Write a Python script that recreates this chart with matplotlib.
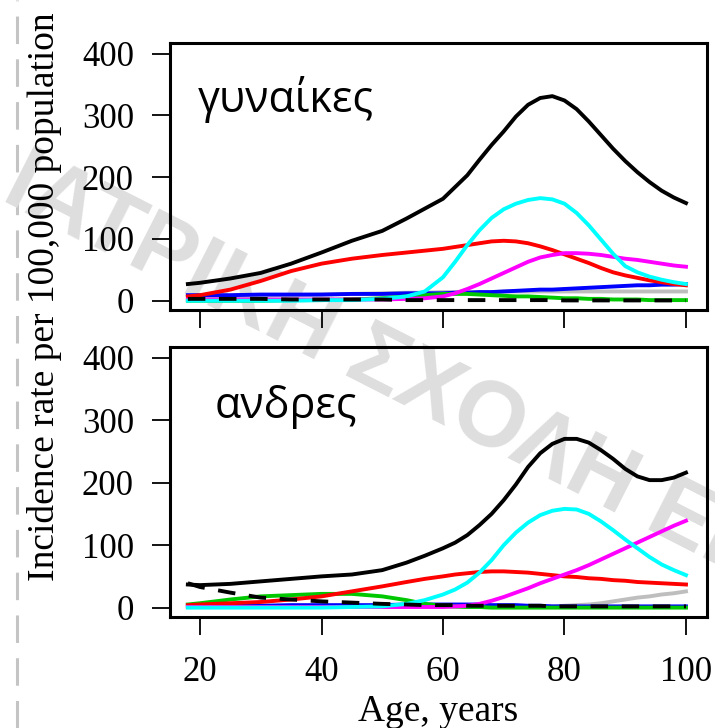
import numpy as np
import matplotlib
matplotlib.use('Agg')
import matplotlib.pyplot as plt
from matplotlib.lines import Line2D

ages = [18, 20, 25, 30, 35, 40, 45, 50, 54, 57, 60, 62, 64, 66, 68, 70,
        72, 74, 76, 78, 80, 82, 84, 86, 88, 90, 92, 94, 96, 98, 100]

# women (top panel)
w_total = [27, 29, 36, 45, 60, 78, 97, 113, 133, 149, 165, 184, 203, 228, 252, 274,
           298, 317, 328, 331, 324, 310, 290, 268, 246, 226, 208, 192, 178, 167, 158]
w_red = [7, 9, 18, 32, 48, 60, 68, 74, 78, 81, 84, 87, 90, 93, 96, 97,
         96, 93, 88, 82, 75, 68, 61, 53, 46, 41, 37, 33, 30, 27, 25]
w_cyan = [0, 0, 0, 0, 0, 1, 1, 3, 7, 15, 38, 63, 90, 114, 134, 148,
          157, 163, 166, 164, 157, 142, 122, 99, 76, 56, 46, 39, 34, 30, 27]
w_magenta = [2, 2, 2, 2, 2, 2, 2, 2, 3, 4, 7, 12, 19, 27, 36, 45,
             54, 63, 70, 74, 77, 77, 76, 74, 71, 68, 66, 63, 60, 57, 55]
w_blue = [9, 9, 9, 10, 10, 10, 11, 11, 12, 12, 12, 13, 13, 14, 14, 15,
          16, 17, 18, 18, 19, 20, 21, 22, 23, 24, 25, 25, 26, 26, 27]
w_gray = [6, 6, 7, 8, 9, 10, 11, 12, 13, 13, 14, 14, 14, 14, 14, 15,
          15, 15, 15, 15, 15, 15, 15, 15, 15, 15, 15, 15, 15, 15, 15]
w_green = [0, 0, 0, 0, 1, 1, 2, 4, 7, 9, 11, 11, 11, 10, 9, 8,
           7, 7, 6, 5, 4, 4, 3, 3, 2, 2, 2, 1, 1, 1, 1]
w_dashed = [3, 3, 3, 3, 2, 2, 2, 2, 1, 1, 1, 1, 1, 1, 1, 1,
            1, 1, 1, 1, 0.5, 0.5, 0.5, 0.5, 0.5, 0.5, 0.5, 0.5, 0.5, 0.5, 0.5]

# men (bottom panel)
m_total = [37, 36, 38, 42, 46, 50, 53, 60, 72, 83, 95, 104, 116, 132, 150, 172,
           197, 225, 247, 262, 270, 270, 264, 252, 238, 222, 210, 204, 204, 208, 216]
m_red = [4, 5, 7, 9, 13, 18, 26, 34, 41, 46, 50, 53, 55, 57, 58, 58,
         57, 56, 54, 52, 50, 49, 47, 46, 44, 43, 41, 40, 39, 38, 37]
m_cyan = [0, 0, 0, 0, 0, 0, 1, 2, 6, 12, 21, 29, 40, 56, 76, 100,
          120, 136, 148, 155, 158, 157, 150, 138, 124, 109, 95, 81, 69, 60, 52]
m_magenta = [1, 1, 1, 1, 1, 1, 1, 1, 1, 1, 1, 2, 3, 6, 11, 17,
             24, 31, 39, 46, 53, 60, 68, 77, 86, 95, 104, 113, 122, 131, 139]
m_blue = [3, 3, 3, 3, 4, 4, 4, 4, 5, 5, 5, 5, 5, 5, 4, 4,
          4, 3, 3, 2, 2, 2, 2, 2, 2, 2, 2, 2, 2, 2, 2]
m_gray = [1, 1, 1, 1, 1, 1, 1, 1, 1, 1, 1, 1, 1, 1, 1, 1,
          1, 1, 1, 2, 3, 4, 5, 7, 10, 13, 16, 18, 21, 23, 26]
m_green = [5, 7, 13, 18, 20, 22, 22, 18, 12, 6, 3, 2, 1, 1, 0, 0,
           0, 0, 0, 0, 0, 0, 0, 0, 0, 0, 0, 0, 0, 0, 0]
m_dashed = [39, 33, 24, 16, 13, 10, 8, 6, 5, 4, 4, 4, 3, 3, 3, 3,
            3, 3, 3, 2, 2, 2, 2, 2, 2, 2, 2, 2, 2, 2, 2]

panel_labels = ['γυναίκες', 'ανδρες']
x_ticks = [20, 40, 60, 80, 100]
y_ticks = [0, 100, 200, 300, 400]

plt.rcParams['font.family'] = ['Liberation Serif', 'DejaVu Serif']

fig = plt.figure(figsize=(7.15, 7.28), dpi=100)
ax1 = fig.add_axes([170/715, 1-310/728, 537/715, 267/728])
ax2 = fig.add_axes([170/715, 1-617/728, 537/715, 270/728])

# watermark behind everything
fig.text(10/715, 1-178/728, 'ΙΑΤΡΙΚΗ ΣΧΟΛΗ ΕΚΠΑ', rotation=-27, rotation_mode='anchor',
         ha='left', va='center', fontsize=66, fontweight='bold',
         family=['Liberation Sans'], color='#dedede', zorder=-5)
fig.add_artist(Line2D([17/715, 17/715], [0, 1], color='#c4c4c4', lw=2.2,
                      dashes=(9, 5), zorder=-5))

lw = 2.8
panels = [
    (ax1, w_total, w_red, w_cyan, w_magenta, w_blue, w_gray, w_green, w_dashed),
    (ax2, m_total, m_red, m_cyan, m_magenta, m_blue, m_gray, m_green, m_dashed),
]
for ax, tot, red, cyan, mag, blue, gray, green, dash in panels:
    ax.set_facecolor('none')
    ax.plot(ages, gray, color='#bebebe', lw=lw)
    ax.plot(ages, blue, color='#0000ff', lw=lw)
    ax.plot(ages, green, color='#00c800', lw=lw)
    ax.plot(ages, red, color='#ff0000', lw=lw)
    ax.plot(ages, mag, color='#ff00ff', lw=lw)
    ax.plot(ages, cyan, color='#00ffff', lw=lw)
    ax.plot(ages, dash, color='black', lw=lw, dashes=(4.5, 3.5))
    ax.plot(ages, tot, color='black', lw=lw)
    ax.set_xlim(15.06, 103.46)
    ax.set_ylim(-15, 417)
    ax.set_xticks(x_ticks)
    ax.set_yticks(y_ticks)
    for s in ax.spines.values():
        s.set_linewidth(2.2)
    ax.tick_params(direction='out', length=13, width=1.3, labelsize=25,
                   top=False, right=False)
    ax.tick_params(axis='y', pad=13)
    ax.tick_params(axis='x', pad=15)

ax1.text(0.052, 0.74, panel_labels[0], transform=ax1.transAxes, fontsize=31,
         family=['Open Sans', 'DejaVu Sans'], ha='left', va='baseline')
ax2.text(0.084, 0.737, panel_labels[1], transform=ax2.transAxes, fontsize=31,
         family=['Open Sans', 'DejaVu Sans'], ha='left', va='baseline')

ax1.tick_params(axis='x', labelbottom=False)
ax2.set_xlabel('Age, years', fontsize=27, labelpad=4)
fig.text(45/715, 1-297/728, 'Incidence rate per 100,000 population', rotation=90,
         ha='center', va='center', fontsize=27)

fig.savefig('out.png', dpi=100)
